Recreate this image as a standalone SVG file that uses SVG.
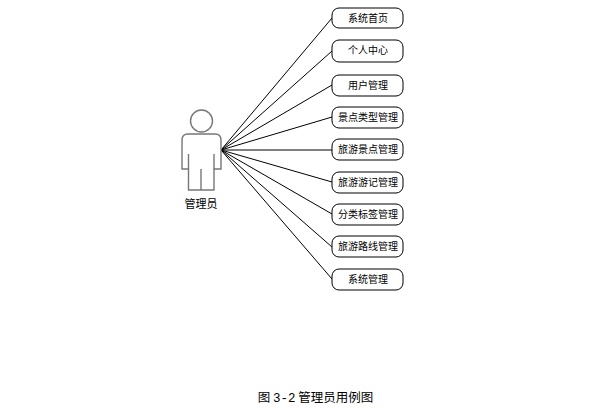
<svg xmlns="http://www.w3.org/2000/svg" width="605" height="408" viewBox="0 0 605 408">
<style>
text{font-family:"Noto Sans CJK SC","Liberation Sans",sans-serif;fill:#000;text-anchor:middle}
.l{font-size:10px}
.uc rect{fill:#fff;stroke:#000;stroke-width:1}
.c line{stroke:#000;stroke-width:1}
.a{fill:#fff;stroke:#777;stroke-width:1.4}
</style>
<rect width="605" height="408" fill="#fff"/>
<g class="c" id="connectors">
<line x1="221" y1="150" x2="332" y2="18"/>
<line x1="221" y1="150" x2="332" y2="51"/>
<line x1="221" y1="150" x2="332" y2="85"/>
<line x1="221" y1="150" x2="332" y2="117"/>
<line x1="221" y1="150" x2="332" y2="150"/>
<line x1="221" y1="150" x2="332" y2="182"/>
<line x1="221" y1="150" x2="332" y2="214"/>
<line x1="221" y1="150" x2="332" y2="247"/>
<line x1="221" y1="150" x2="332" y2="279"/>
</g>
<g id="actor">
<circle class="a" cx="201.500" cy="121" r="11"/>
<path class="a" d="M188 134H215Q221 134 221 140V169H214V190H188.500V169H182V140Q182 134 188 134Z"/>
<path class="a" fill="none" d="M188.500 154V169M214 154V169M201 169V190"/>
<text x="201" y="208" style="font-size:11px">管理员</text>
</g>
<g class="uc" id="uc1"><rect x="332" y="8" width="71" height="20" rx="7"/><text class="l" x="368" y="22">系统首页</text></g>
<g class="uc" id="uc2"><rect x="332" y="40" width="71" height="22" rx="7"/><text class="l" x="368" y="54">个人中心</text></g>
<g class="uc" id="uc3"><rect x="332" y="75" width="71" height="21" rx="7"/><text class="l" x="368" y="89">用户管理</text></g>
<g class="uc" id="uc4"><rect x="332" y="107" width="71" height="21" rx="7"/><text class="l" x="368" y="121">景点类型管理</text></g>
<g class="uc" id="uc5"><rect x="332" y="139" width="71" height="21" rx="7"/><text class="l" x="368" y="153">旅游景点管理</text></g>
<g class="uc" id="uc6"><rect x="332" y="172" width="71" height="21" rx="7"/><text class="l" x="368" y="186">旅游游记管理</text></g>
<g class="uc" id="uc7"><rect x="332" y="204" width="71" height="21" rx="7"/><text class="l" x="368" y="218">分类标签管理</text></g>
<g class="uc" id="uc8"><rect x="332" y="236" width="71" height="21" rx="7"/><text class="l" x="368" y="250">旅游路线管理</text></g>
<g class="uc" id="uc9"><rect x="332" y="269" width="71" height="21" rx="7"/><text class="l" x="368" y="283">系统管理</text></g>
<text x="315.500" y="402" style="font-size:12.500px">图 <tspan style="font-family:'Liberation Mono',monospace">3-2</tspan> 管理员用例图</text>
</svg>
